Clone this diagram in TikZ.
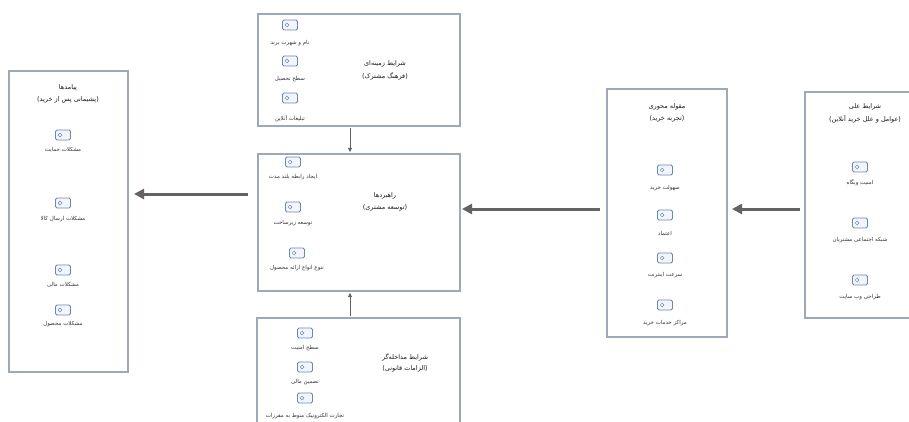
\documentclass[tikz,border=0pt]{standalone}
\usepackage{fontspec}
\newfontfamily\arabicfont[Script=Arabic]{DejaVu Sans}
\TeXXeTstate=1
\usetikzlibrary{arrows.meta}
\definecolor{boxline}{HTML}{9FA8B6}
\definecolor{iconblue}{HTML}{6F86AE}
\definecolor{iconfill}{HTML}{F2F6FC}
\definecolor{arrowgray}{HTML}{636363}
\definecolor{txtgray}{HTML}{333333}
\tikzset{
  groupbox/.style={draw=boxline, line width=1.2pt, fill=white},
  iconbox/.style={draw=iconblue, fill=iconfill, line width=0.75pt, rectangle,
    rounded corners=1.5pt, minimum width=15pt, minimum height=10pt, inner sep=0pt,
    path picture={\draw[iconblue, line width=0.5pt] ([xshift=4.5pt]path picture bounding box.west) circle (1.9pt);}},
  lbl/.style={font=\arabicfont\fontsize{5.5}{6.5}\selectfont, text=txtgray, inner sep=0pt},
  ttl/.style={font=\arabicfont\fontsize{6.5}{7.5}\selectfont, text=black!90, inner sep=0pt},
  bigarrow/.style={draw=arrowgray, line width=3pt, -{Triangle[length=10pt,width=10pt]}},
  smallarrow/.style={draw=arrowgray, line width=0.8pt, -{Triangle[length=4pt,width=4pt]}}
}
\newcommand{\iconitem}[5]{%
  \node[iconbox] (#1) at (#2,#3) {};
  \node[lbl] (#1t) at (#2,#4) {#5};}
\begin{document}
\begin{tikzpicture}[x=1pt,y=-1pt]
\useasboundingbox (0,0) rectangle (909,422);
\clip (0,0) rectangle (909,422);
\fill[white] (0,0) rectangle (909,422);

% boxes
\draw[groupbox] (9,71) rectangle (128,372);
\coordinate (lbE) at (128,194);

\draw[groupbox] (258,14) rectangle (460,126);
\coordinate (tbS) at (350,128);

\draw[groupbox] (258,154) rectangle (460,291);
\coordinate (cbN) at (350,152);
\coordinate (cbS) at (350,293);
\coordinate (cbE) at (462,209);
\coordinate (cbW) at (248,194);

\draw[groupbox] (257,318) rectangle (460,440);
\coordinate (bbN) at (350,316);

\draw[groupbox] (607,89) rectangle (727,337);
\coordinate (rcE) at (732,209);
\coordinate (rcW) at (600,209);

\draw[groupbox] (805,92) rectangle (930,318);
\coordinate (rbW) at (800,209);

% left box: consequences
\node[ttl] (lt1) at (68,88) {\beginR پیامدها\endR};
\node[ttl] (lt2) at (68,100) {\beginR (پشیمانی پس از خرید)\endR};
\iconitem{l1}{63}{135}{150}{\beginR مشکلات حمایت\endR}
\iconitem{l2}{63}{203}{219}{\beginR مشکلات ارسال کالا\endR}
\iconitem{l3}{63}{270}{285}{\beginR مشکلات مالی\endR}
\iconitem{l4}{63}{310}{324}{\beginR مشکلات محصول\endR}

% top box: context
\node[ttl] (tt1) at (385,64) {\beginR شرایط زمینه‌ای\endR};
\node[ttl] (tt2) at (385,76) {\beginR (فرهنگ مشترک)\endR};
\iconitem{t1}{290}{25}{43}{\beginR نام و شهرت برند\endR}
\iconitem{t2}{290}{61}{79}{\beginR سطح تحصیل\endR}
\iconitem{t3}{290}{98}{119}{\beginR تبلیغات آنلاین\endR}

% center box: strategies
\node[ttl] (ct1) at (385,196) {\beginR راهبردها\endR};
\node[ttl] (ct2) at (385,208) {\beginR (توسعه مشتری)\endR};
\iconitem{c1}{293}{162}{177}{\beginR ایجاد رابطه بلند مدت\endR}
\iconitem{c2}{293}{207}{223}{\beginR توسعه زیرساخت\endR}
\iconitem{c3}{297}{253}{268}{\beginR تنوع انواع ارائه محصول\endR}

% bottom box: intervening
\node[ttl] (bt1) at (405,357) {\beginR شرایط مداخله‌گر\endR};
\node[ttl] (bt2) at (405,369) {\beginR (الزامات قانونی)\endR};
\iconitem{b1}{305}{333}{348}{\beginR سطح امنیت\endR}
\iconitem{b2}{305}{367}{382}{\beginR تضمین مالی\endR}
\iconitem{b3}{305}{398}{416}{\beginR تجارت الکترونیک منوط به مقررات\endR}

% right-center box: core category
\node[ttl] (rt1) at (667,107) {\beginR مقوله محوری\endR};
\node[ttl] (rt2) at (667,119) {\beginR (تجربه خرید)\endR};
\iconitem{r1}{665}{170}{188}{\beginR سهولت خرید\endR}
\iconitem{r2}{665}{215}{233}{\beginR اعتماد\endR}
\iconitem{r3}{665}{258}{275}{\beginR سرعت اینترنت\endR}
\iconitem{r4}{665}{305}{323}{\beginR مراکز خدمات خرید\endR}

% right box: causal
\node[ttl] (st1) at (865,107) {\beginR شرایط علی\endR};
\node[ttl] (st2) at (865,119) {\beginR (عوامل و علل خرید آنلاین)\endR};
\iconitem{s1}{860}{167}{183}{\beginR امنیت وبگاه\endR}
\iconitem{s2}{860}{223}{240}{\beginR شبکه اجتماعی مشتریان\endR}
\iconitem{s3}{860}{280}{297}{\beginR طراحی وب سایت\endR}

% arrows
\draw[bigarrow] (rbW) -- (rcE);
\draw[bigarrow] (rcW) -- (cbE);
\draw[bigarrow] (cbW) -- ([xshift=6pt]lbE);
\draw[smallarrow] (tbS) -- (cbN);
\draw[smallarrow] (bbN) -- (cbS);
\end{tikzpicture}
\end{document}
